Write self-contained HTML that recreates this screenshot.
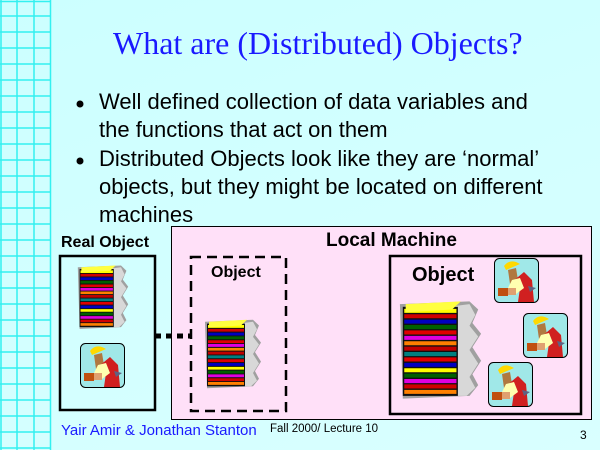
<!DOCTYPE html>
<html><head><meta charset="utf-8"><style>
body{margin:0}
#s{position:relative;width:600px;height:450px;overflow:hidden;font-family:"Liberation Sans",sans-serif;
background:linear-gradient(160deg,#ccffff 0%,#d9ffff 100%);}
.t{position:absolute;white-space:nowrap}
</style></head><body><div id="s">
<svg width="600" height="450" style="position:absolute;left:0;top:0">
<defs>
<g id="stk">
<path d="M2,6 L50,4 L56,10 L52,20 L58,28 L52,38 L58,48 L52,58 L56,66 L50,74 L4,76 Z" fill="#a0a0a0"/>
<path d="M36,8 L50,6 L54,14 L50,22 L56,30 L50,40 L56,50 L50,60 L54,68 L48,74 L36,74Z" fill="#d8d8d8"/>
<rect x="4" y="8" width="38" height="66" fill="#101010"/>
<g stroke-width="3">
<line x1="5" y1="11" x2="41" y2="11" stroke="#ff0"/>
<line x1="5" y1="15" x2="41" y2="15" stroke="#d00000"/>
<line x1="5" y1="19" x2="41" y2="19" stroke="#0000c0"/>
<line x1="5" y1="23" x2="41" y2="23" stroke="#006000"/>
<line x1="5" y1="27" x2="41" y2="27" stroke="#e00000"/>
<line x1="5" y1="31" x2="41" y2="31" stroke="#e000e0"/>
<line x1="5" y1="35" x2="41" y2="35" stroke="#ff8000"/>
<line x1="5" y1="39" x2="41" y2="39" stroke="#c00000"/>
<line x1="5" y1="43" x2="41" y2="43" stroke="#008080"/>
<line x1="5" y1="47" x2="41" y2="47" stroke="#e00000"/>
<line x1="5" y1="51" x2="41" y2="51" stroke="#0000c0"/>
<line x1="5" y1="55" x2="41" y2="55" stroke="#ff0"/>
<line x1="5" y1="59" x2="41" y2="59" stroke="#006000"/>
<line x1="5" y1="63" x2="41" y2="63" stroke="#e000e0"/>
<line x1="5" y1="67" x2="41" y2="67" stroke="#d00000"/>
<line x1="5" y1="71" x2="41" y2="71" stroke="#ff8000"/>
</g>
<path d="M6,6 L44,4 L38,10 L6,12Z" fill="#ffff40"/>
</g>
<g id="wk">
<rect x="0.5" y="0.5" width="44" height="44" rx="5" fill="#a0e8e8" stroke="#000"/>
<path d="M14,12 L22,10 L24,22 L16,26Z" fill="#b07840"/>
<path d="M10,8 Q16,0 26,6 L12,12Z" fill="#ffd800"/>
<path d="M18,24 L30,14 L38,22 L40,44 L24,44 L26,30 Z" fill="#d02020"/>
<path d="M18,22 L26,20 L30,30 L22,36 L12,34Z" fill="#ffffb0"/>
<rect x="4" y="30" width="10" height="8" fill="#c05010"/>
<rect x="14" y="30" width="8" height="7" fill="#e0a070"/>
<path d="M34,28 L42,30 L36,34Z" fill="#606080"/>
</g>
</defs>
<g stroke="#33f0f0" stroke-width="1.5" fill="none">
<line x1="1" y1="0" x2="1" y2="450"/><line x1="17" y1="0" x2="17" y2="450"/>
<line x1="34" y1="0" x2="34" y2="450"/><line x1="50.5" y1="0" x2="50.5" y2="450"/>
<path d="M0,1.5H50 M0,16H50 M0,32H50 M0,48H50 M0,64H50 M0,80H50 M0,96H50 M0,112H50 M0,128H50 M0,144H50 M0,160H50 M0,176H50 M0,192H50 M0,208H50 M0,224H50 M0,240H50 M0,256H50 M0,272H50 M0,288H50 M0,304H50 M0,320H50 M0,336H50 M0,352H50 M0,368H50 M0,384H50 M0,400H50 M0,416H50 M0,432H50 M0,448H50"/>
</g>
<circle cx="80" cy="104" r="3.5" fill="#000"/>
<circle cx="80" cy="161" r="3.5" fill="#000"/>
<rect x="171.5" y="226.5" width="420" height="193" fill="#ffe0f8" stroke="#000" stroke-width="1"/>
<rect x="60" y="256" width="95" height="154" fill="none" stroke="#000" stroke-width="2.5"/>
<rect x="191" y="257" width="95" height="154" fill="none" stroke="#000" stroke-width="2.5" stroke-dasharray="10,6"/>
<rect x="390" y="256" width="191" height="158" fill="none" stroke="#000" stroke-width="2.5"/>
<line x1="155" y1="336" x2="190" y2="336" stroke="#000" stroke-width="5" stroke-dasharray="6,5"/>
<use href="#stk" transform="translate(76,262) scale(0.9,0.88)"/>
<use href="#stk" transform="translate(203,316) scale(1,0.95)"/>
<use href="#stk" transform="translate(397,296) scale(1.45,1.35)"/>
<use href="#wk" transform="translate(80,343)"/>
<use href="#wk" transform="translate(494,258)"/>
<use href="#wk" transform="translate(523,313)"/>
<use href="#wk" transform="translate(488,362)"/>
</svg>
<div class="t" style="left:113px;top:25px;font:32px 'Liberation Serif',serif;color:#1a1aff">What are (Distributed) Objects?</div>
<div class="t" style="left:99px;top:88px;font-size:22px;line-height:28px">Well defined collection of data variables and<br>the functions that act on them</div>
<div class="t" style="left:99px;top:145px;font-size:22px;line-height:28px">Distributed Objects look like they are ‘normal’<br>objects, but they might be located on different<br>machines</div>
<div class="t" style="left:61px;top:234px;font-size:16px;font-weight:bold">Real Object</div>
<div class="t" style="left:326px;top:230px;font-size:19px;font-weight:bold">Local Machine</div>
<div class="t" style="left:211px;top:264px;font-size:16px;font-weight:bold">Object</div>
<div class="t" style="left:412px;top:264px;font-size:20px;font-weight:bold">Object</div>
<div class="t" style="left:61px;top:422px;font-size:15px;color:#1a1aff">Yair Amir &amp; Jonathan Stanton</div>
<div class="t" style="left:270px;top:423px;font-size:11.5px">Fall 2000/ Lecture 10</div>
<div class="t" style="left:580px;top:428px;font-size:12px">3</div>
</div></body></html>
